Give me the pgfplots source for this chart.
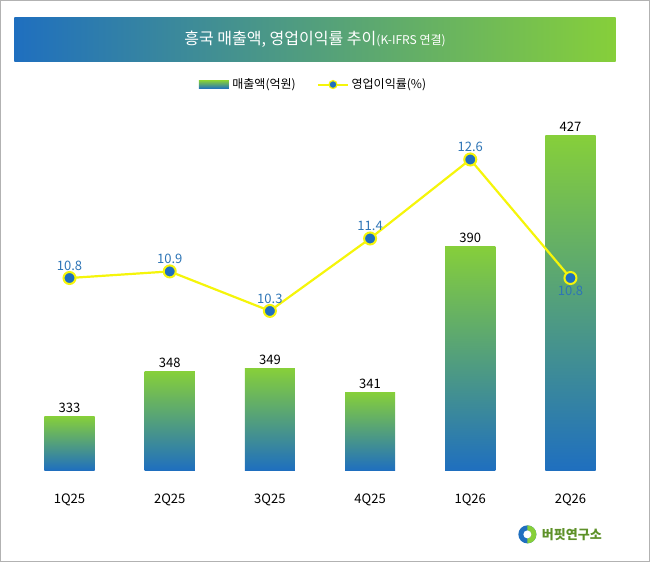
\documentclass[border=0pt]{standalone}
\usepackage{pgfplots}
\pgfplotsset{compat=1.18}
\usepackage{fontspec}
\setmainfont{Noto Sans CJK KR}
\definecolor{bblue}{HTML}{1F6FBF}
\definecolor{bgreen}{HTML}{86CF3A}
\definecolor{lblue}{HTML}{2E75B6}
\definecolor{lyel}{HTML}{F5F50A}
\begin{document}
\begin{tikzpicture}
\draw[gray!60, line width=0.8pt] (1pt,1pt) rectangle (649pt,561pt);
\shade[left color=bblue, right color=bgreen] (15pt,500pt) rectangle (615pt,544pt);
\node[white, font=\fontsize{16}{19}\selectfont] at (315pt,522pt) {흥국 매출액, 영업이익률 추이\fontsize{12}{14}\selectfont(K-IFRS 연결)};
\shade[top color=bgreen, bottom color=bblue] (199pt,473pt) rectangle (229pt,481pt);
\node[anchor=west, font=\fontsize{12}{14}\selectfont] at (229pt,477pt) {매출액(억원)};
\draw[lyel, line width=2pt] (318pt,477pt) -- (348pt,477pt);
\filldraw[fill=bblue, draw=lyel, line width=1.2pt] (333pt,477pt) circle (4pt);
\node[anchor=west, font=\fontsize{12}{14}\selectfont] at (348pt,477pt) {영업이익률(\%)};
\begin{axis}[at={(20pt,92pt)}, anchor=south west, scale only axis, width=600pt, height=370pt,
  xmin=-0.5, xmax=5.5, ymin=315, ymax=439, axis lines=none, clip=false]
\foreach \x/\v in {0/333,1/348,2/349,3/341,4/390,5/427}{
  \edef\tmp{\noexpand\shade[top color=bgreen, bottom color=bblue] (axis cs:\x-0.25,315) rectangle (axis cs:\x+0.25,\v);}\tmp
}
\addplot[only marks, mark=none, nodes near coords, point meta=explicit symbolic,
  nodes near coords style={font=\fontsize{13}{15}\selectfont, black, anchor=south}]
 table[meta=l] {
x y l
0 333 333
1 348 348
2 349 349
3 341 341
4 390 390
5 427 427
};
\foreach \x/\l in {0/1Q25,1/2Q25,2/3Q25,3/4Q25,4/1Q26,5/2Q26}{
  \edef\tmp{\noexpand\node[font=\noexpand\fontsize{13}{15}\noexpand\selectfont] at (axis cs:\x,305) {\l};}\tmp
}
\end{axis}
\begin{axis}[at={(20pt,92pt)}, anchor=south west, scale only axis, width=600pt, height=370pt,
  xmin=-0.5, xmax=5.5, ymin=7.88, ymax=13.51, axis lines=none, clip=false]
\addplot[lyel, line width=2.2pt, mark=*, mark size=6pt,
  mark options={fill=bblue, draw=lyel, line width=2pt},
  nodes near coords, point meta=explicit symbolic,
  nodes near coords style={font=\fontsize{13}{15}\selectfont, lblue, anchor=south, yshift=3pt}]
 table[meta=l] {
x y l
0 10.8 10.8
1 10.9 10.9
2 10.3 10.3
3 11.4 11.4
4 12.6 12.6
};
\addplot[lyel, line width=2.2pt] coordinates {(4,12.6)(5,10.8)};
\addplot[mark=*, mark size=6pt, mark options={fill=bblue, draw=lyel, line width=2pt},
  only marks, nodes near coords={10.8}, nodes near coords style={font=\fontsize{13}{15}\selectfont, lblue, anchor=north, yshift=-4pt}] coordinates {(5,10.8)};
\end{axis}
\fill[bblue] (527pt,28pt) circle (9pt);
\fill[bgreen] (527pt,19pt) arc (-90:90:9pt) -- (527pt,32pt) arc (90:-90:4pt) -- cycle;
\fill[white] (527pt,28pt) circle (4pt);
\node[anchor=west, bgreen!70!black, font=\bfseries\fontsize{13}{15}\selectfont] at (538pt,28pt) {버핏연구소};
\end{tikzpicture}
\end{document}
